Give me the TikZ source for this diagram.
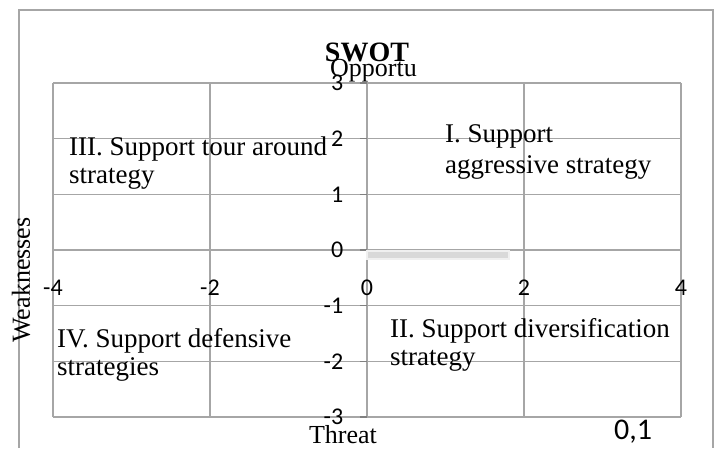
\documentclass[tikz,border=0pt]{standalone}
\usepackage{fontspec}
\setmainfont{Liberation Serif}
\newfontfamily\calibri{Carlito}
\usetikzlibrary{positioning}
\definecolor{gridgray}{HTML}{A6A6A6}
\definecolor{tickgray}{HTML}{808080}
\definecolor{bargray}{HTML}{D9D9D9}
\definecolor{barrim}{HTML}{F0F0F0}

\begin{document}
\begin{tikzpicture}[x=1pt,y=-1pt,
  quad/.style={anchor=base west,align=left,inner sep=0pt,font=\fontsize{27}{28}\selectfont},
  axlbl/.style={font=\calibri\fontsize{24}{24}\selectfont,inner sep=0pt},
  grd/.style={draw=gridgray,line width=1.3pt},
  frm/.style={draw=gridgray,line width=2pt}
]
\useasboundingbox (0,0) rectangle (716,448);

% chart frame (bottom edge runs off the page)
\draw[frm] (19,448) -- (19,10) -- (713,10) -- (713,448);

\node[font=\bfseries\fontsize{28}{28}\selectfont,anchor=base,inner sep=0pt] (title) at (367,61) {SWOT};
\node[font=\fontsize{26}{26}\selectfont,anchor=base west,inner sep=0pt] (opp) at (330,76) {Opportu};

% plot area in data units
\begin{scope}[shift={(367,250)},x=78.5pt,y=55.67pt]
  \foreach \x in {-4,-2,...,4} \draw[grd] (\x,-3) -- (\x,3);
  \foreach \y in {-3,...,3} \draw[grd] (-4,\y) -- (4,\y);
  \foreach \y in {-3,...,3} \draw[draw=tickgray,line width=1.3pt] (-0.09,\y) -- (0,\y);
  \draw[draw=barrim,line width=2pt,fill=bargray] (0,-0.02) rectangle (1.81,-0.16);
  \foreach \y in {-3,...,3} \node[axlbl,anchor=east] (y\y) at (-0.3,\y) {\y};
  \foreach \x in {-4,-2,...,4} \node[axlbl] (x\x) at (\x,-0.68) {\x};
\end{scope}

% quadrants (anchor on the last line)
\node[quad] (q3) at (69,183) {III. Support tour around\\strategy};
\node[quad] (q1) at (445,173) {I. Support\\[3pt]aggressive strategy};
\node[quad] (q4) at (57,375) {IV. Support defensive\\strategies};
\node[quad] (q2) at (390,365) {II. Support diversification\\strategy};

% axis titles
\node[rotate=90,font=\fontsize{26}{26}\selectfont,inner sep=0pt] (weak) at (21,280) {Weaknesses};
\node[font=\fontsize{26}{26}\selectfont,anchor=base,inner sep=0pt] (threat) at (343,443) {Threat};
\node[font=\calibri\fontsize{30}{30}\selectfont,anchor=base,inner sep=0pt] (val) at (633,439) {0,1};

\end{tikzpicture}
\end{document}
